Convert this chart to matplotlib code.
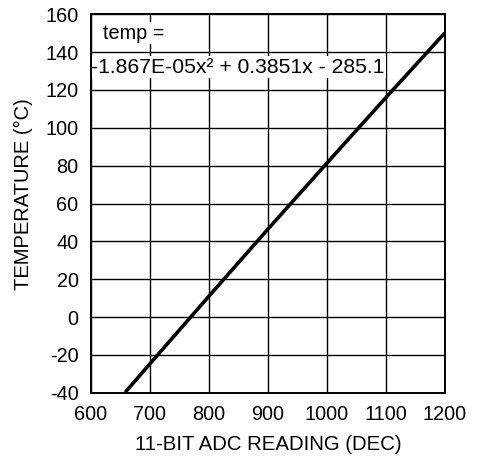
import matplotlib
matplotlib.use("Agg")
import matplotlib.pyplot as plt

adc_reading = [658, 700, 800, 900, 1000, 1100, 1200]
temperature = [-39.8, -24.7, 11.0, 46.4, 81.3, 115.9, 150.1]
x_ticks = [600, 700, 800, 900, 1000, 1100, 1200]
y_ticks = [-40, -20, 0, 20, 40, 60, 80, 100, 120, 140, 160]
x_label = "11-BIT ADC READING (DEC)"
y_label = "TEMPERATURE (°C)"
eq_line1 = "temp ="
eq_line2 = "-1.867E-05x² + 0.3851x - 285.1"

plt.rcParams['font.family'] = ['Liberation Sans', 'DejaVu Sans']
plt.rcParams['axes.unicode_minus'] = False

FS = 14.3

fig = plt.figure(figsize=(4.8, 4.62), dpi=100)
ax = fig.add_axes([91/480, 1 - 392.7/462, (444.7 - 91)/480, (392.7 - 14.3)/462])

ax.plot(adc_reading, temperature, color='black', linewidth=2.6, solid_capstyle='butt', zorder=3)
ax.set_xlim(600, 1200)
ax.set_ylim(-40, 160)
ax.set_xticks(x_ticks)
ax.set_yticks(y_ticks)
ax.grid(True, color='black', linewidth=1.0)
ax.set_axisbelow(True)
ax.tick_params(axis='y', length=0, labelsize=FS, pad=9, colors='black')
ax.tick_params(axis='x', length=0, labelsize=FS, pad=9, colors='black')
for s in ax.spines.values():
    s.set_linewidth(1.4)
    s.set_color('black')
    s.set_zorder(5)

ax.set_xlabel(x_label, fontsize=14.7, labelpad=8)
ax.set_ylabel(y_label, fontsize=14.5)
ax.yaxis.set_label_coords((33 - 91) / 353.7, (392.7 - 194) / 378.4)

ax.text(621, 150.1, eq_line1, fontsize=FS, va='center', ha='left', zorder=4,
        bbox=dict(facecolor='white', edgecolor='none', pad=1.0))
ax.text(600.3, 132.1, eq_line2, fontsize=15.2, va='center', ha='left', zorder=4,
        bbox=dict(facecolor='white', edgecolor='none', pad=1.0))

fig.savefig("out.png", dpi=100)
